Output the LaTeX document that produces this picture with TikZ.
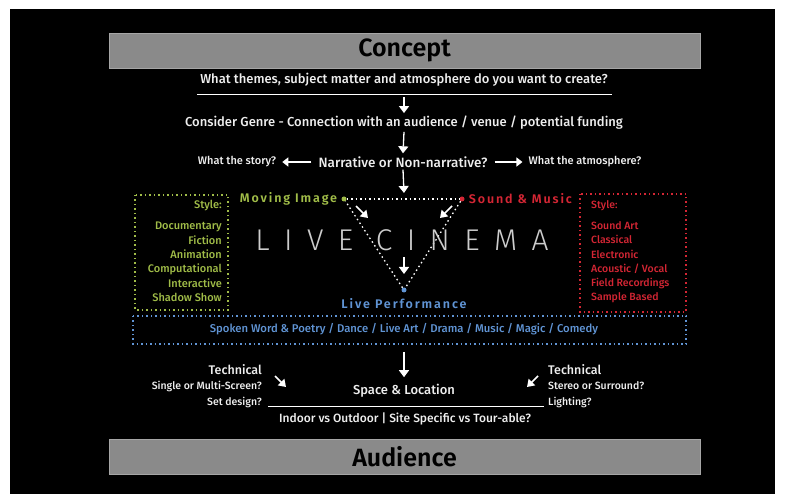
\documentclass[tikz,border=0pt]{standalone}
\usepackage{fontspec}
\setmainfont{Fira Sans}[UprightFont=* Medium, BoldFont=* SemiBold]
\newfontfamily\thinfont{Fira Sans Light}
\usetikzlibrary{arrows.meta, positioning}

\definecolor{barGray}{RGB}{138,138,138}
\definecolor{imgGreen}{RGB}{160,188,72}
\definecolor{musRed}{RGB}{212,38,52}
\definecolor{perfBlue}{RGB}{96,148,212}
\definecolor{txtWhite}{RGB}{238,238,238}
\definecolor{liveGray}{RGB}{205,205,205}

\tikzset{
  bar/.style = {fill=barGray, draw=gray!70, minimum width=591pt, minimum height=35pt,
                text=black, font=\bfseries\fontsize{25}{25}\selectfont},
  maintxt/.style = {text=txtWhite, font=\fontsize{13}{15}\selectfont},
  smalltxt/.style = {text=txtWhite!85, font=\fontsize{11}{12}\selectfont},
  corner label/.style = {font=\bfseries\fontsize{12.5}{14}\selectfont\addfontfeatures{LetterSpace=15}},
  downarr/.style = {draw=white, line width=1.3pt, -{Triangle[width=10pt,length=7pt]}},
  sidearr/.style = {draw=white, line width=1.3pt, -{Triangle[width=9pt,length=6pt]}},
  diagarr/.style = {draw=white, line width=1.6pt, -{Triangle[width=9pt,length=7pt]}},
  dotbox/.style = {line width=1.6pt, dash pattern=on 1.5pt off 3pt},
  corner/.style = {circle, inner sep=0pt, minimum size=5pt},
}

\begin{document}
\begin{tikzpicture} [x=1pt, y=-1pt, every node/.style={inner sep=1pt}]
        \useasboundingbox [fill=white] (0,0) rectangle (785,494);
        \fill [black] (10,9) rectangle (775,494);

        % top and bottom bars
        \node (concept) [bar] at (404.5,50.5) {Concept};
        \node (audience) [bar] at (404.5,456.5) {Audience};

        % upper chain
        \node (themes) [maintxt] at (404,80) {What themes, subject matter and atmosphere do you want to create?};
        \draw [white!80, line width=0.8pt] (197,94) -- (612,94);
        \coordinate (ulmid) at (404,97);
        \node (genre) [maintxt] at (404,123) {Consider Genre - Connection with an audience / venue / potential funding};
        \node (narr) [maintxt, font=\fontsize{13.5}{15}\selectfont] at (403,162) {Narrative or Non-narrative?};
        \node (story) [smalltxt] at (237,162) {What the story?};
        \node (atmos) [smalltxt] at (585,162) {What the atmosphere?};

        \path [downarr] (ulmid) -- ([yshift=2pt]genre.north);
        \path [downarr] ([yshift=-1pt]genre.south) -- ([yshift=2pt]narr.north);
        \path [sidearr] ([xshift=-6pt]narr.west) -- ([xshift=5pt]story.east);
        \path [sidearr] ([xshift=6pt]narr.east) -- ([xshift=-5pt]atmos.west);

        % live cinema triangle
        \node (mi) [corner, fill=imgGreen] at (344,199) {};
        \node (sm) [corner, fill=musRed] at (462,199) {};
        \node (lp) [corner, fill=perfBlue] at (404,290) {};
        \path [downarr] ([yshift=-1pt]narr.south) -- (404,193);
        \draw [white, dotbox, line width=1.3pt] (mi) -- (sm);
        \draw [white, dotbox, line width=1.3pt] (sm) -- (lp);
        \draw [white, dotbox, line width=1.3pt] (lp) -- (mi);

        \node (miLabel) [left = 3pt of mi, text=imgGreen, corner label] {Moving Image};
        \node (smLabel) [right = 3pt of sm, text=musRed, corner label] {Sound \& Music};
        \node (lpLabel) [below = 5pt of lp, text=perfBlue, corner label] {Live Performance};
        \node (live) [text=liveGray, font=\thinfont\fontsize{30}{30}\selectfont\addfontfeatures{LetterSpace=48}] at (402,240) {LIVE CINEMA};

        \coordinate (miIn) at (368,218);
        \coordinate (smIn) at (440,218);
        \coordinate (lpIn) at (404,274);
        \path [diagarr] (356,206) -- (miIn);
        \path [diagarr] (452,206) -- (smIn);
        \path [downarr] (404,257) -- (lpIn);

        % style boxes
        \draw [imgGreen, dotbox] (135,195) rectangle (228,310);
        \node (imgStyle) [anchor=north east, align=right, text=imgGreen, font=\fontsize{11}{14.3}\selectfont]
              at (223,199) {Style:\\[7pt] Documentary\\ Fiction\\ Animation\\ Computational\\ Interactive\\ Shadow Show};
        \draw [musRed, dotbox] (580,194) rectangle (686,312);
        \node (musStyle) [anchor=north west, align=left, text=musRed, font=\fontsize{10.5}{14.3}\selectfont]
              at (590,199) {Style:\\[7pt] Sound Art\\ Classical\\ Electronic\\ Acoustic / Vocal\\ Field Recordings\\ Sample Based};

        % performance strip
        \draw [perfBlue, dotbox] (133,316) rectangle (686,344);
        \node (perf) [text=perfBlue, font=\fontsize{11.3}{13}\selectfont] at (404,329)
              {Spoken Word \& Poetry / Dance / Live Art / Drama / Music / Magic / Comedy};

        % space and location
        \node (space) [maintxt] at (404,391) {Space \& Location};
        \path [downarr] (404,352) -- ([yshift=6pt]space.north);
        \node (techL) [anchor=north east, align=right, text=txtWhite, font=\fontsize{10.5}{15.5}\selectfont]
              at (263,363) {{\fontsize{12.5}{14}\selectfont Technical}\\ Single or Multi-Screen?\\ Set design?};
        \node (techR) [anchor=north west, align=left, text=txtWhite, font=\fontsize{10.5}{15.5}\selectfont]
              at (547,363) {{\fontsize{12.5}{14}\selectfont Technical}\\ Stereo or Surround?\\ Lighting?};
        \coordinate (tlIn) at (286,387);
        \coordinate (trIn) at (527,387);
        \path [diagarr] (275,376) -- (tlIn);
        \path [diagarr] (538,376) -- (trIn);
        \draw [white!80, line width=0.8pt] (268,406) -- (544,406);
        \node (indoor) [maintxt, font=\fontsize{12}{14}\selectfont] at (405,419) {Indoor vs Outdoor | Site Specific vs Tour-able?};

    \end{tikzpicture}
\end{document}
